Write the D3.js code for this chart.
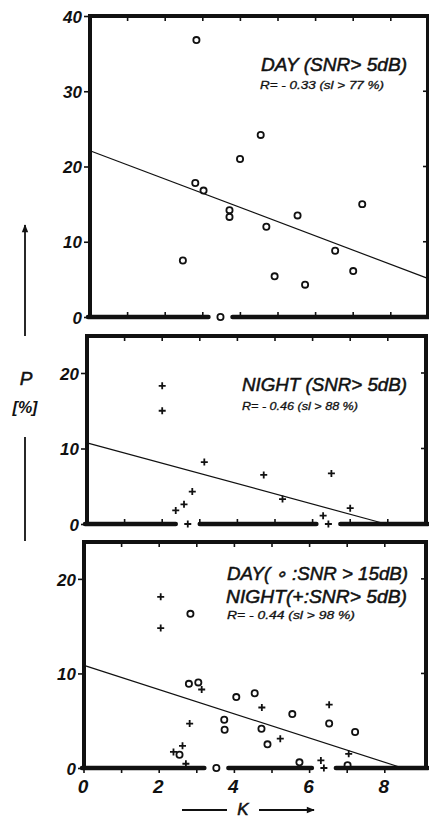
<!DOCTYPE html>
<html>
<head>
<meta charset="utf-8">
<script src="https://cdn.jsdelivr.net/npm/d3@7"></script>
<style>
  body { margin: 0; background: #fff; }
  text { font-family: 'Liberation Sans', Arial, sans-serif; fill: #111; }
</style>
</head>
<body>
<svg id="chart" width="429" height="821"></svg>
<script>
// values
var kLabels = [0, 2, 4, 6, 8];
var kMinor = [0, 1, 2, 3, 4, 5, 6, 7, 8];

// top: day, SNR > 5 dB
var dayK = [2.83, 2.80, 3.02, 2.47, 3.71, 3.71, 3.99, 4.54, 4.69, 4.91, 5.52, 5.72, 6.52, 7.00, 7.24, 3.47];
var dayP = [36.8, 17.8, 16.8, 7.5, 14.2, 13.3, 21.0, 24.2, 12.0, 5.4, 13.5, 4.3, 8.8, 6.1, 15.0, 0];
var dayFit = [[0, 22.1], [9, 5.1]];

// middle: night, SNR > 5 dB
var nightK = [2.00, 2.00, 3.12, 2.36, 2.58, 2.80, 2.68, 4.70, 5.20, 6.50, 6.28, 6.42, 7.00];
var nightP = [18.3, 15.0, 8.2, 1.8, 2.6, 4.3, 0, 6.5, 3.3, 6.7, 1.1, 0, 2.1];
var nightFit = [[0, 10.75], [7.95, 0]];

// bottom: day SNR > 15 dB (circles) + night SNR > 5 dB (crosses)
var hiDayK = [2.83, 2.79, 3.04, 2.54, 3.52, 3.73, 3.74, 4.05, 4.54, 4.72, 4.88, 5.54, 5.73, 6.52, 7.21, 7.01];
var hiDayP = [16.3, 8.9, 9.05, 1.4, 0, 5.1, 4.05, 7.5, 7.9, 4.15, 2.5, 5.7, 0.6, 4.7, 3.8, 0.3];
var allNightK = [2.04, 2.04, 3.13, 2.81, 2.38, 2.62, 2.71, 4.73, 5.22, 6.30, 6.38, 6.52, 7.04];
var allNightP = [18.1, 14.8, 8.3, 4.7, 1.7, 2.35, 0.45, 6.4, 3.1, 0.8, 0, 6.7, 1.5];
var allFit = [[0, 10.85], [8.47, 0]];

var svg = d3.select("#chart");
var pxPerK = 37.6;

var panels = [
  { left: 90, right: 428, top: 16, bottom: 317, yMax: 40, yTicks: [0, 10, 20, 30, 40], rTicks: [10, 20, 30],
    circles: d3.zip(dayK, dayP), crosses: [], fit: dayFit, outTicks: false,
    texts: [
      { t: "DAY (SNR> 5dB)", x: 261, y: 71, len: 146, size: 18.5 },
      { t: "R= - 0.33 (sl > 77 %)", x: 260, y: 89, len: 124, size: 11 }
    ] },
  { left: 87, right: 426, top: 336, bottom: 524, yMax: 24.9, yTicks: [0, 10, 20], rTicks: [10, 20],
    circles: [], crosses: d3.zip(nightK, nightP), fit: nightFit, outTicks: false,
    texts: [
      { t: "NIGHT (SNR> 5dB)", x: 242, y: 391, len: 165, size: 18.5 },
      { t: "R= - 0.46 (sl > 88 %)", x: 242, y: 410, len: 116, size: 11 }
    ] },
  { left: 84, right: 426, top: 542, bottom: 768, yMax: 23.9, yTicks: [0, 10, 20], rTicks: [10, 20],
    circles: d3.zip(hiDayK, hiDayP), crosses: d3.zip(allNightK, allNightP), fit: allFit, outTicks: true,
    texts: [
      { t: "DAY( \u2218 :SNR > 15dB)", x: 227, y: 579.5, len: 181, size: 18 },
      { t: "NIGHT(+:SNR> 5dB)", x: 226, y: 603, len: 181, size: 18 },
      { t: "R= - 0.44 (sl > 98 %)", x: 227, y: 618.5, len: 128, size: 11 }
    ] }
];

panels.forEach(function(p) {
  var x = d3.scaleLinear().domain([0, 9]).range([p.left, p.left + 9 * pxPerK]);
  var y = d3.scaleLinear().domain([0, p.yMax]).range([p.bottom, p.top]);
  var g = svg.append("g");

  // small ticks on the top edge (inward) and bottom edge
  g.selectAll(".ttick").data(kMinor.slice(1)).enter().append("line")
    .attr("x1", d => x(d)).attr("x2", d => x(d))
    .attr("y1", p.top).attr("y2", p.top + 5)
    .attr("stroke", "#111").attr("stroke-width", 1.6);
  g.selectAll(".btick").data(p.outTicks ? kMinor : kMinor.slice(1)).enter().append("line")
    .attr("x1", d => x(d)).attr("x2", d => x(d))
    .attr("y1", p.bottom).attr("y2", p.outTicks ? p.bottom + 5 : p.bottom - 5)
    .attr("stroke", "#111").attr("stroke-width", 1.6);

  // right ticks, inward
  g.selectAll(".rtick").data(p.rTicks).enter().append("line")
    .attr("x1", p.right).attr("x2", p.right - 5)
    .attr("y1", d => y(d)).attr("y2", d => y(d))
    .attr("stroke", "#111").attr("stroke-width", 1.6);

  // left axis with outward ticks
  var ax = g.append("g")
    .attr("transform", "translate(" + p.left + ",0)")
    .call(d3.axisLeft(y).tickValues(p.yTicks).tickSize(6).tickPadding(2));
  ax.select(".domain").remove();
  ax.selectAll("line").attr("stroke", "#111").attr("stroke-width", 1.6);
  ax.selectAll("text")
    .attr("font-size", 17).attr("font-weight", "bold").attr("font-style", "italic")
    .attr("font-family", "'Liberation Sans', Arial, sans-serif").attr("fill", "#111")
    .attr("dy", "0.36em");

  // frame: left, top, right
  g.append("path")
    .attr("d", "M" + p.left + "," + (p.bottom + 2) + "V" + p.top + "H" + p.right + "V" + (p.bottom + 2))
    .attr("fill", "none").attr("stroke", "#111").attr("stroke-width", 4);

  // bottom line, broken where points sit on zero
  var zeroK = p.circles.concat(p.crosses).filter(d => d[1] === 0).map(d => x(d[0])).sort(d3.ascending);
  var edges = [p.left - 2].concat(zeroK.flatMap(z => [z - 12, z + 12])).concat([p.right + 2]);
  var segs = d3.range(0, edges.length, 2).map(i => [edges[i], edges[i + 1]]);
  g.selectAll(".seg").data(segs).enter().append("line")
    .attr("x1", d => d[0]).attr("x2", d => d[1])
    .attr("y1", p.bottom).attr("y2", p.bottom)
    .attr("stroke", "#111").attr("stroke-width", 4.5).attr("stroke-linecap", "round");

  // regression line
  g.append("path")
    .attr("d", d3.line().x(d => x(d[0])).y(d => y(d[1]))(p.fit))
    .attr("fill", "none").attr("stroke", "#111").attr("stroke-width", 1.2);

  // markers
  g.selectAll(".c").data(p.circles).enter().append("circle")
    .attr("cx", d => x(d[0])).attr("cy", d => y(d[1])).attr("r", 3.1)
    .attr("fill", "none").attr("stroke", "#111").attr("stroke-width", 1.8);
  g.selectAll(".x").data(p.crosses).enter().append("path")
    .attr("transform", d => "translate(" + x(d[0]) + "," + y(d[1]) + ")")
    .attr("d", "M-3.5,0H3.5M0,-3.5V3.5")
    .attr("stroke", "#111").attr("stroke-width", 1.8);

  // captions
  g.selectAll(".cap").data(p.texts).enter().append("text")
    .attr("x", d => d.x).attr("y", d => d.y)
    .attr("font-size", d => d.size).attr("font-style", "italic")
    .attr("stroke", "#111").attr("stroke-width", d => d.size > 12 ? 0.5 : 0.3)
    .attr("textLength", d => d.len).attr("lengthAdjust", "spacingAndGlyphs")
    .text(d => d.t);

  // K labels under the last panel
  if (p.outTicks) {
    g.selectAll(".kl").data(kLabels).enter().append("text")
      .attr("x", d => x(d) - 1).attr("y", 793)
      .attr("text-anchor", "middle").attr("font-size", 19)
      .attr("font-weight", "bold").attr("font-style", "italic")
      .text(d => d);
  }
});

// y axis title with arrow
svg.append("defs").append("marker")
  .attr("id", "head").attr("viewBox", "0 0 10 10").attr("refX", 9).attr("refY", 5)
  .attr("markerWidth", 14).attr("markerHeight", 8).attr("markerUnits", "userSpaceOnUse")
  .attr("orient", "auto")
  .append("path").attr("d", "M0,1L10,5L0,9Z").attr("fill", "#111");

svg.append("line").attr("x1", 25).attr("x2", 25).attr("y1", 336).attr("y2", 225)
  .attr("stroke", "#111").attr("stroke-width", 1.8).attr("marker-end", "url(#head)");
svg.append("line").attr("x1", 25).attr("x2", 25).attr("y1", 437).attr("y2", 541)
  .attr("stroke", "#111").attr("stroke-width", 1.8);
svg.append("text").attr("x", 26).attr("y", 385).attr("text-anchor", "middle")
  .attr("font-size", 19).attr("font-style", "italic")
  .attr("stroke", "#111").attr("stroke-width", 0.5).text("P");
svg.append("text").attr("x", 25).attr("y", 413).attr("text-anchor", "middle")
  .attr("font-size", 16).attr("font-weight", "bold").attr("font-style", "italic").text("[%]");

// x axis title with arrow
svg.append("line").attr("x1", 182).attr("x2", 227).attr("y1", 810).attr("y2", 810)
  .attr("stroke", "#111").attr("stroke-width", 1.8);
svg.append("line").attr("x1", 259).attr("x2", 314).attr("y1", 810).attr("y2", 810)
  .attr("stroke", "#111").attr("stroke-width", 1.8).attr("marker-end", "url(#head)");
svg.append("text").attr("x", 243).attr("y", 815).attr("text-anchor", "middle")
  .attr("font-size", 17).attr("font-style", "italic")
  .attr("stroke", "#111").attr("stroke-width", 0.5).text("K");
</script>
</body>
</html>
